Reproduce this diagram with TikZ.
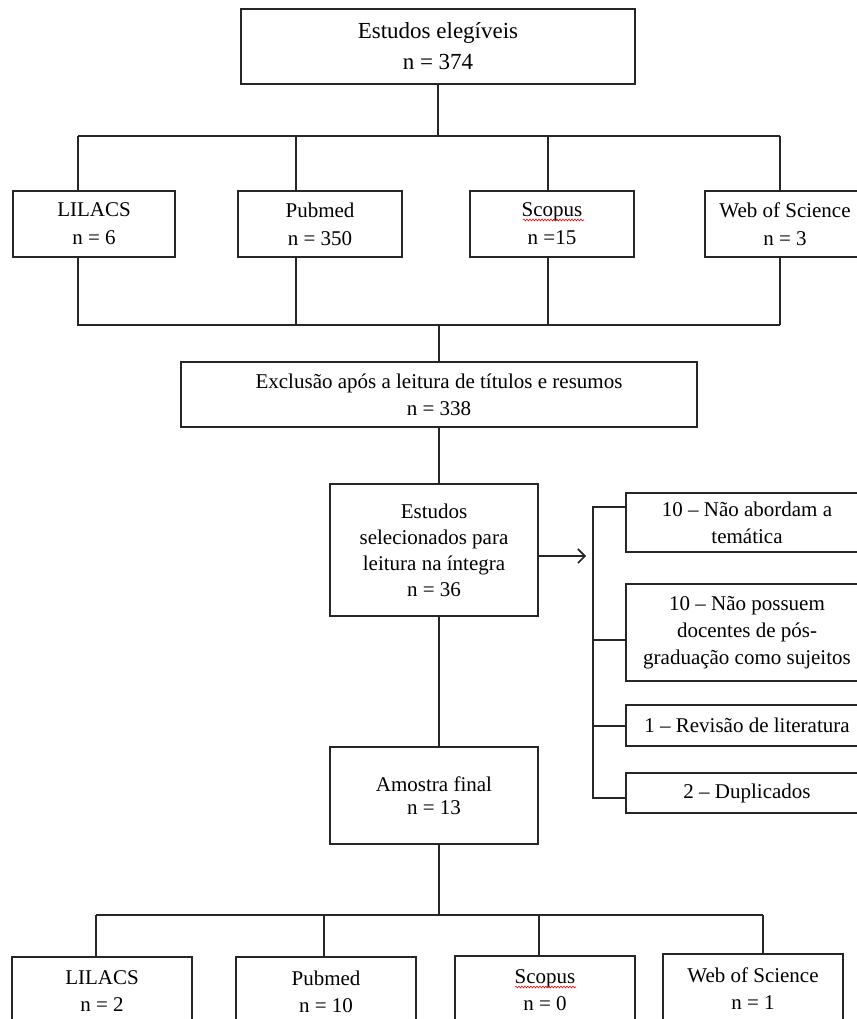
\documentclass[tikz,border=0pt]{standalone}
\usepackage{fontspec}
\setmainfont{Liberation Serif}
\usetikzlibrary{arrows,arrows.meta,positioning,decorations.pathmorphing}

\begin{document}
\begin{tikzpicture}[x=1pt,y=-1pt,line width=2pt,color=black!85,
    every text node part/.style={align=center},
    box/.style={draw,inner sep=0pt,text=black,font=\fontsize{21}{27}\selectfont},
    wavy/.style={red,line width=0.6pt,decorate,decoration={snake,amplitude=0.9pt,segment length=3pt}}]
    \useasboundingbox (0,0) rectangle (856,1019);

    \node[box,minimum width=394,minimum height=75,font=\fontsize{23}{31}\selectfont] (elig) at (438,46.5) {Estudos elegíveis \\ n = 374};

    \node[box,minimum width=162,minimum height=66,font=\fontsize{21}{28}\selectfont] (lil1) at (94,224) {LILACS \\ n = 6};
    \node[box,minimum width=164,minimum height=66,font=\fontsize{21}{28}\selectfont] (pub1) at (320,224) {Pubmed \\ n = 350};
    \node[box,minimum width=164,minimum height=66,font=\fontsize{21}{28}\selectfont] (sco1) at (552,224) {Scopus \\ n =15};
    \node[box,minimum width=160,minimum height=66,font=\fontsize{21}{28}\selectfont] (wos1) at (785,224) {Web of Science \\ n = 3};

    \node[box,minimum width=516,minimum height=65] (excl) at (439,394.5) {Exclusão após a leitura de títulos e resumos \\ n = 338};
    \node[box,minimum width=208,minimum height=132,font=\fontsize{21}{26}\selectfont] (sel) at (434,550) {Estudos \\ selecionados para \\ leitura na íntegra \\ n = 36};

    \node[box,minimum width=242,minimum height=59] (excA) at (747,522.5) {10 – Não abordam a \\ temática};
    \node[box,minimum width=242,minimum height=97] (excB) at (747,632.5) {10 – Não possuem \\ docentes de pós- \\ graduação como sujeitos};
    \node[box,minimum width=242,minimum height=41] (excC) at (747,725.5) {1 – Revisão de literatura};
    \node[box,minimum width=242,minimum height=40] (excD) at (747,793) {2 – Duplicados};

    \node[box,minimum width=208,minimum height=97,font=\fontsize{21}{23}\selectfont] (amo) at (434,795.5) {Amostra final \\ n = 13};

    \node[box,minimum width=180,minimum height=69] (lil2) at (102,991.5) {LILACS \\ n = 2};
    \node[box,minimum width=180,minimum height=69] (pub2) at (326,991.5) {Pubmed \\ n = 10};
    \node[box,minimum width=180,minimum height=69] (sco2) at (545,990.5) {Scopus \\ n = 0};
    \node[box,minimum width=180,minimum height=69] (wos2) at (753,988.5) {Web of Science \\ n = 1};

    \coordinate (busA) at (78,136);
    \coordinate (busB) at (780,325);
    \coordinate (brk) at (593,507);
    \coordinate (arr) at (586,556);
    \coordinate (busC) at (96,915);

    \draw (elig.south) -- (elig.south |- busA);
    \draw (busA) -- (busA -| busB);
    \draw (busA) -- (busA |- lil1.north);
    \draw (296,136) -- (pub1.north -| 296,0);
    \draw (548,136) -- (sco1.north -| 548,0);
    \draw (busA -| busB) -- (busB |- wos1.north);

    \draw (busA |- lil1.south) -- (busA |- busB) -- (busB);
    \draw (pub1.south -| 296,0) -- (296,325);
    \draw (sco1.south -| 548,0) -- (548,325);
    \draw (busB |- wos1.south) -- (busB);

    \draw (busB -| excl.south) -- (excl.north);
    \draw (excl.south) -- (excl.south |- sel.north);
    \draw[-{Straight Barb[length=7pt,width=14pt,line width=1.6pt]}] (sel.east |- arr) -- (arr);

    \draw (excA.west |- brk) -- (brk) |- (excD.west |- 0,798);
    \draw (brk |- 0,640) -- (excB.west |- 0,640);
    \draw (brk |- 0,726) -- (excC.west |- 0,726);

    \draw (sel.south -| excl.south) -- (excl.south |- amo.north);
    \draw (amo.south -| excl.south) -- (excl.south |- busC);
    \draw (busC) -- (763,915);
    \draw (busC) -- (busC |- lil2.north);
    \draw (324,915) -- (pub2.north -| 324,0);
    \draw (539,915) -- (sco2.north -| 539,0);
    \draw (763,915) -- (wos2.north -| 763,0);

    \draw[wavy] ([xshift=-29pt,yshift=4pt]sco1.center) -- ++(61,0);
    \draw[wavy] ([xshift=-30pt,yshift=3.5pt]sco2.center) -- ++(61,0);
\end{tikzpicture}
\end{document}
